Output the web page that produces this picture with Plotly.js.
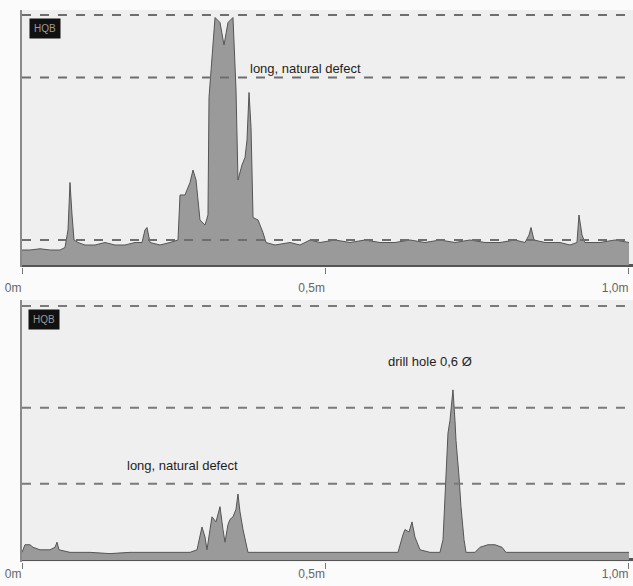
<!DOCTYPE html>
<html>
<head>
<meta charset="utf-8">
<script src="https://cdn.plot.ly/plotly-3.0.1.min.js"></script>
<style>html,body{margin:0;padding:0;background:#fbfbfb;}#chart{width:633px;height:586px;}</style>
</head>
<body>
<div id="chart"></div>
<script>
// Top scan: position (m) and echo amplitude (% of top threshold)
const topX = [0,0.0132,0.0297,0.0461,0.0626,0.0708,0.0758,0.0791,0.0824,0.0857,0.0923,0.1038,0.1203,0.1367,0.1532,0.1697,0.1862,0.1977,0.2026,0.2059,0.2109,0.2273,0.2438,0.2570,0.2603,0.2685,0.2768,0.2817,0.2867,0.2932,0.3015,0.3064,0.3081,0.3130,0.3180,0.3262,0.3328,0.3394,0.3476,0.3526,0.3558,0.3624,0.3674,0.3707,0.3740,0.3773,0.3806,0.3888,0.3970,0.4020,0.4168,0.4415,0.4580,0.4745,0.4909,0.5157,0.5404,0.5651,0.5898,0.6145,0.6392,0.6639,0.6886,0.7133,0.7381,0.7628,0.7875,0.8122,0.8287,0.8353,0.8386,0.8435,0.8616,0.8863,0.9028,0.9143,0.9176,0.9226,0.9275,0.9522,0.9769,1.0];
const topY = [6,6,6.5,6,6,7,14,33,20,10,9,8,8,9,8,8,9,9,14,15,9,8,9,10,28,28,33,38,34,18,16,20,67,85,99,97,88,97,99,70,34,40,43,50,69,55,19,18,13,9,8,9,8,10,9,10,9,10,9,9,10,9,10,9,10,9,9,10,9,12,15,10,9,9,8,9,20,12,9,9,10,9];
const topThresholds = [100, 75, 10];

// Bottom scan
const botX = [0,0.0049,0.0132,0.0181,0.0297,0.0461,0.0544,0.0577,0.0610,0.0791,0.1120,0.1450,0.1779,0.2109,0.2438,0.2768,0.2883,0.2965,0.3015,0.3048,0.3097,0.3130,0.3196,0.3262,0.3311,0.3344,0.3394,0.3427,0.3476,0.3526,0.3558,0.3591,0.3641,0.3690,0.3723,0.3921,0.4250,0.4580,0.4909,0.5239,0.5568,0.5898,0.6194,0.6277,0.6310,0.6376,0.6425,0.6474,0.6557,0.6722,0.6886,0.6936,0.6985,0.7018,0.7051,0.7100,0.7133,0.7150,0.7199,0.7232,0.7282,0.7315,0.7463,0.7545,0.7677,0.7792,0.7908,0.7973,0.8204,0.8534,0.8863,0.9193,0.9522,0.9769,1.0];
const botY = [3,6,6,5,4,4,5,7,4,3,3,2.5,3,3,3,3,4,13,9,4,12,17,15,21,12,7,14,16,17,20,26,19,12,6,3,3,3,3,3,3,3,3,3,10,12,11,15,9,4,3,3,8,30,50,55,67,55,47,33,21,8,3,3,5,6,6,5,3,3,3,3,3,3,3,3];
const botThresholds = [100, 60, 30];

const tickVals = [0, 0.5, 1.0];
const tickText = ["0m", "0,5m", "1,0m"];
const topLabel = "long, natural defect";
const botLabels = ["long, natural defect", "drill hole 0,6 Ø"];
const boxLabel = "HQB";

const fillStyle = {type:'scatter', mode:'lines', fill:'tozeroy', fillcolor:'#9a9a9a',
  line:{color:'#555', width:1}, hoverinfo:'skip', showlegend:false};

const data = [
  Object.assign({x:topX, y:topY, xaxis:'x', yaxis:'y'}, fillStyle),
  Object.assign({x:botX, y:botY, xaxis:'x2', yaxis:'y2'}, fillStyle)
];

const shapes = [];
topThresholds.forEach(v => shapes.push({type:'line', xref:'x domain', yref:'y', x0:0, x1:1, y0:v, y1:v,
  line:{color:'#6e6e6e', width:2, dash:'dash'}, layer:'above'}));
botThresholds.forEach(v => shapes.push({type:'line', xref:'x2 domain', yref:'y2', x0:0, x1:1, y0:v, y1:v,
  line:{color:'#7a7a7a', width:2, dash:'dash'}, layer:'above'}));

const xCommon = {range:[0, 1.0066], tickvals:tickVals, ticktext:tickText, ticks:'outside', ticklen:6,
  tickcolor:'#777', tickwidth:1, tickfont:{family:'Liberation Sans, Arial', size:12, color:'#666'},
  ticklabelposition:'outside left', showgrid:false, zeroline:false, showline:false, fixedrange:true};
const yCommon = {showticklabels:false, ticks:'', showgrid:false, zeroline:true, zerolinecolor:'#555',
  zerolinewidth:3, showline:true, linecolor:'#8a8a8a', linewidth:2, fixedrange:true};

const layout = {
  width:633, height:586,
  margin:{l:0, r:0, t:0, b:0},
  paper_bgcolor:'#fbfbfb', plot_bgcolor:'#efefef',
  showlegend:false,
  xaxis: Object.assign({domain:[22/633, 1], anchor:'y', ticklabelstandoff:10}, xCommon),
  yaxis: Object.assign({domain:[1-267/586, 1-10/586], range:[-0.8, 102], anchor:'x'}, yCommon),
  xaxis2: Object.assign({domain:[22/633, 1], anchor:'y2', ticklabelstandoff:1}, xCommon),
  yaxis2: Object.assign({domain:[1-562/586, 1-300/586], range:[-0.8, 102.4], anchor:'x2'}, yCommon),
  shapes: shapes,
  annotations: [
    {xref:'x', yref:'y', x:0.372, y:78.8, xanchor:'left', yanchor:'middle', showarrow:false, text:topLabel,
     font:{family:'Liberation Sans, Arial', size:13, color:'#1e1e1e'}},
    {xref:'x2', yref:'y2', x:0.170, y:37.4, xanchor:'left', yanchor:'middle', showarrow:false, text:botLabels[0],
     font:{family:'Liberation Sans, Arial', size:13, color:'#1e1e1e'}},
    {xref:'x2', yref:'y2', x:0.600, y:78, xanchor:'left', yanchor:'middle', showarrow:false, text:botLabels[1],
     font:{family:'Liberation Sans, Arial', size:13, color:'#1e1e1e'}},
    {xref:'paper', yref:'paper', x:29/633, y:1-18/586, xanchor:'left', yanchor:'top', showarrow:false, text:boxLabel,
     bgcolor:'#111', borderpad:4, font:{family:'Liberation Sans, Arial', size:10, color:'#999'}},
    {xref:'paper', yref:'paper', x:28/633, y:1-309/586, xanchor:'left', yanchor:'top', showarrow:false, text:boxLabel,
     bgcolor:'#111', borderpad:4, font:{family:'Liberation Sans, Arial', size:10, color:'#999'}}
  ]
};

Plotly.newPlot('chart', data, layout, {displayModeBar:false, staticPlot:true});
</script>
</body>
</html>
